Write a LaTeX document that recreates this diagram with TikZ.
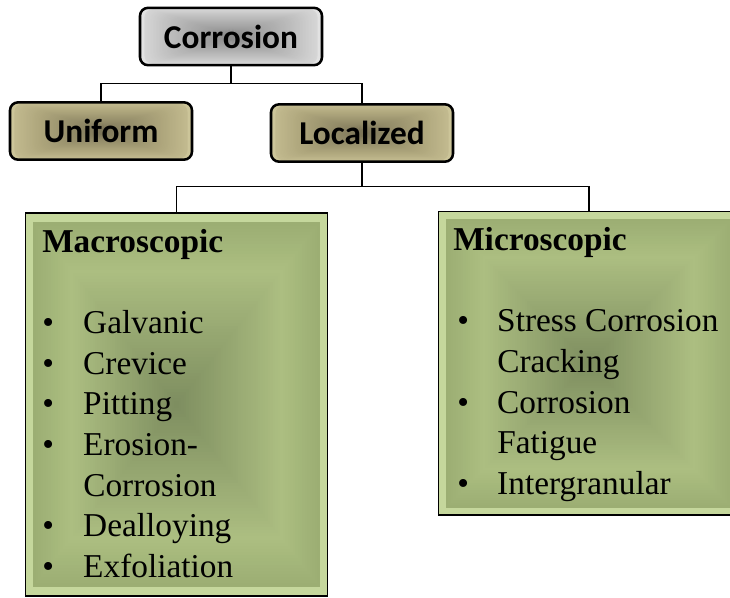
\documentclass[tikz,border=0pt]{standalone}
\usepackage{fontspec}
\setmainfont{Liberation Serif}
\newfontfamily\calibri{Carlito}
\usetikzlibrary{calc}

\definecolor{greyrim}{RGB}{226,226,226}
\definecolor{greyband}{RGB}{214,214,214}
\definecolor{greymid}{RGB}{192,192,192}
\definecolor{greycore}{RGB}{138,138,138}
\definecolor{khakirim}{RGB}{204,197,153}
\definecolor{khakiband}{RGB}{194,186,143}
\definecolor{khakimid}{RGB}{176,168,126}
\definecolor{khakicore}{RGB}{124,117,88}
\definecolor{greenrim}{RGB}{197,215,156}
\definecolor{greenband}{RGB}{156,174,115}
\definecolor{greenmid}{RGB}{172,190,129}
\definecolor{greencore}{RGB}{126,142,96}

\tikzset{
  shadebox/.style n args={4}{path picture={
    \fill[#1] (path picture bounding box.south west) rectangle (path picture bounding box.north east);
    \foreach \k in {3,...,18}{
      \pgfmathsetmacro\mixval{(\k-3)*100/15}
      \fill[#3!\mixval!#2] ($(path picture bounding box.south west)!\k/122!(path picture bounding box.north east)$) rectangle ($(path picture bounding box.north east)!\k/122!(path picture bounding box.south west)$);
    }
    \foreach \k in {19,...,60}{
      \pgfmathsetmacro\mixval{(\k-18)*100/42}
      \fill[#4!\mixval!#3] ($(path picture bounding box.south west)!\k/122!(path picture bounding box.north east)$) rectangle ($(path picture bounding box.north east)!\k/122!(path picture bounding box.south west)$);
    }}},
  topbox/.style={draw, line width=1.9pt, rounded corners=6pt, inner sep=0pt,
    minimum width=136.5pt, minimum height=43pt,
    font=\calibri\bfseries\fontsize{25}{30}\selectfont},
  groupbox/.style={draw, line width=0.8pt, inner sep=0pt, minimum width=226pt},
  listtext/.style={anchor=base west, inner sep=0pt, font=\fontsize{25}{30.5}\selectfont},
  link/.style={line width=0.8pt}
}

\begin{document}
\begin{tikzpicture}[x=0.75pt,y=0.75pt,yscale=-1,xscale=1]
	\clip (0,0) rectangle (730,597);
	
	% top level
	\node[topbox, shadebox={greyrim}{greyband}{greymid}{greycore}] (corrosion) at (231,36.5) {Corrosion};
	\node[topbox, shadebox={khakirim}{khakiband}{khakimid}{khakicore}] (uniform) at (101,131) {Uniform};
	\node[topbox, shadebox={khakirim}{khakiband}{khakimid}{khakicore}] (localized) at (362,133) {Localized};
	
	% groups
	\node[groupbox, minimum height=287.25pt, shadebox={greenrim}{greenband}{greenmid}{greencore}] (macro) at (176.5,404.5) {};
	\node[groupbox, minimum height=227.6pt, shadebox={greenrim}{greenband}{greenmid}{greencore}] (micro) at (589,363.25) {};
	
	% connectors
	\coordinate (split1) at (231,83.5);
	\coordinate (split2) at (362,186.5);
	\draw[link] (corrosion.south) -- (split1) -| (uniform.north);
	\draw[link] (split1) -| (localized.north);
	\draw[link] (localized.south) -- (split2) -| (macro.north);
	\draw[link] (split2) -| (micro.north);
	
	% Text Node
	\node[listtext] (macrotext) at (42,252) {\begin{tabular}[t]{@{}p{30.75pt}@{}l@{}}
		\multicolumn{2}{@{}l@{}}{\textbf{Macroscopic}}\\
		& \\
		\textbullet & Galvanic\\
		\textbullet & Crevice\\
		\textbullet & Pitting\\
		\textbullet & Erosion-\\
		& Corrosion\\
		\textbullet & Dealloying\\
		\textbullet & Exfoliation
	\end{tabular}};
	% Text Node
	\node[listtext] (microtext) at (453,250.5) {\begin{tabular}[t]{@{}p{33pt}@{}l@{}}
		\multicolumn{2}{@{}l@{}}{\textbf{Microscopic}}\\
		& \\
		\hspace*{3pt}\textbullet & Stress Corrosion\\
		& Cracking\\
		\hspace*{3pt}\textbullet & Corrosion\\
		& Fatigue\\
		\hspace*{3pt}\textbullet & Intergranular
	\end{tabular}};
	
\end{tikzpicture}
\end{document}
